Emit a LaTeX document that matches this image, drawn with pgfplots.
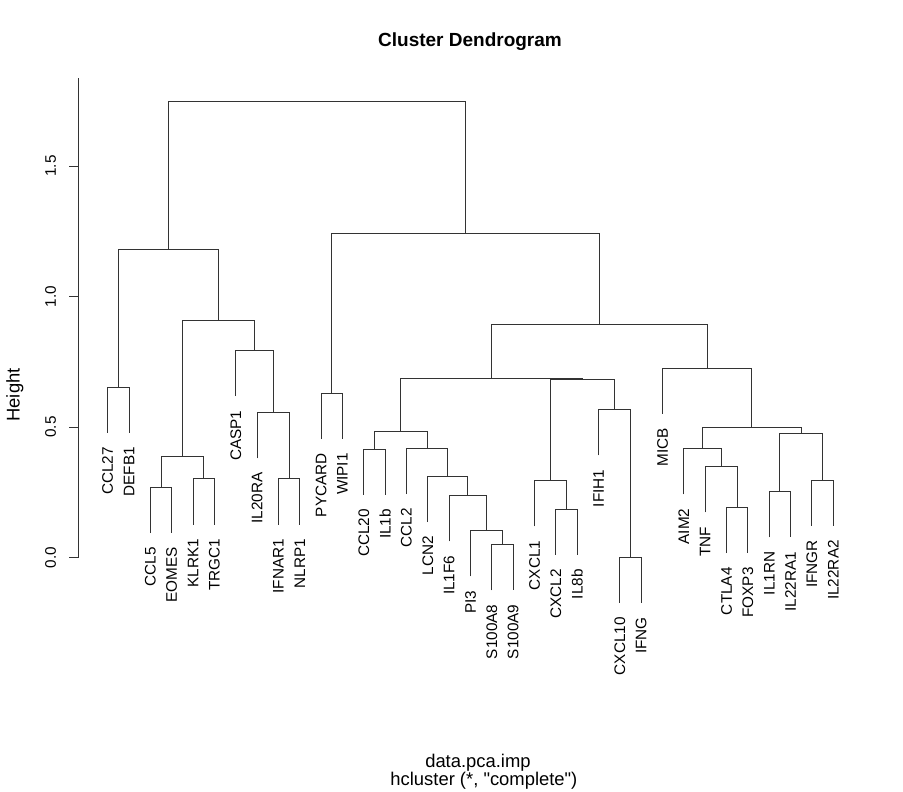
\documentclass[border=0pt]{standalone}
\usepackage{fontspec}
\setmainfont{Liberation Sans}[Ligatures=TeXOff]
\usepackage{pgfplots}
\pgfplotsset{compat=1.18}
\newcommand{\lab}{\fontsize{15.3bp}{18bp}\selectfont}
\newcommand{\axlab}{\fontsize{18.4bp}{22bp}\selectfont}
\tikzset{
  dend/.style={black!80, line width=1bp},
  leaf/.style={rotate=90, anchor=east, inner sep=0pt, font=\lab},
}
% one merge: left x, left bottom, height, right x, right bottom
\newcommand{\U}[5]{\addplot[dend, no marks] coordinates {(#1,#2) (#1,#3) (#4,#3) (#4,#5)};}
\newcommand{\leaflab}[3]{\node[leaf] at (axis cs:#1,#2) {#3};}
\begin{document}
\begin{tikzpicture}
\begin{axis}[
  name=ax,
  scale only axis,
  width=783.6bp, height=479.5bp,
  xmin=-0.36, xmax=36.36, ymin=0, ymax=1.837,
  axis x line=none,
  axis y line*=left,
  ytick={0,0.5,1,1.5},
  yticklabels={0.0,0.5,1.0,1.5},
  tick align=outside,
  major tick length=9.2bp,
  yticklabel style={rotate=90, anchor=base, inner sep=0pt, font=\lab},
  yticklabel shift=13.5bp,
  clip=false,
  axis line style={black!80, line width=1bp},
  every tick/.style={black!80, line width=1bp},
]
% merges
\U{1}{0.478}{0.653}{2}{0.478}
\U{3}{0.094}{0.269}{4}{0.094}
\U{5}{0.126}{0.301}{6}{0.126}
\U{3.5}{0.269}{0.388}{5.5}{0.301}
\U{9}{0.126}{0.301}{10}{0.126}
\U{8}{0.380}{0.555}{9.5}{0.301}
\U{7}{0.618}{0.793}{8.75}{0.555}
\U{4.5}{0.388}{0.910}{7.875}{0.793}
\U{1.5}{0.653}{1.181}{6.1875}{0.910}
\U{11}{0.454}{0.629}{12}{0.454}
\U{13}{0.240}{0.415}{14}{0.240}
\U{19}{-0.126}{0.049}{20}{-0.126}
\U{18}{-0.072}{0.103}{19.5}{0.049}
\U{17}{0.062}{0.237}{18.75}{0.103}
\U{16}{0.136}{0.311}{17.875}{0.237}
\U{15}{0.243}{0.418}{16.9375}{0.311}
\U{13.5}{0.415}{0.481}{15.96875}{0.418}
\U{22}{0.010}{0.185}{23}{0.010}
\U{21}{0.119}{0.294}{22.5}{0.185}
\U{25}{-0.174}{0.001}{26}{-0.174}
\U{24}{0.391}{0.566}{25.5}{0.001}
\U{21.75}{0.294}{0.683}{24.75}{0.566}
\U{14.734375}{0.481}{0.687}{23.25}{0.683}
\U{30}{0.017}{0.192}{31}{0.017}
\U{29}{0.173}{0.348}{30.5}{0.192}
\U{28}{0.242}{0.417}{29.75}{0.348}
\U{32}{0.077}{0.252}{33}{0.077}
\U{34}{0.121}{0.296}{35}{0.121}
\U{32.5}{0.252}{0.476}{34.5}{0.296}
\U{28.875}{0.417}{0.500}{33.5}{0.476}
\U{27}{0.550}{0.725}{31.1875}{0.500}
\U{18.9921875}{0.687}{0.893}{29.09375}{0.725}
\U{11.5}{0.629}{1.241}{24.04296875}{0.893}
\U{3.84375}{1.181}{1.746}{17.771484375}{1.241}
% leaf labels
\leaflab{1}{0.424}{CCL27}
\leaflab{2}{0.424}{DEFB1}
\leaflab{3}{0.040}{CCL5}
\leaflab{4}{0.040}{EOMES}
\leaflab{5}{0.072}{KLRK1}
\leaflab{6}{0.072}{TRGC1}
\leaflab{7}{0.564}{CASP1}
\leaflab{8}{0.326}{IL20RA}
\leaflab{9}{0.072}{IFNAR1}
\leaflab{10}{0.072}{NLRP1}
\leaflab{11}{0.400}{PYCARD}
\leaflab{12}{0.400}{WIPI1}
\leaflab{13}{0.186}{CCL20}
\leaflab{14}{0.186}{IL1b}
\leaflab{15}{0.189}{CCL2}
\leaflab{16}{0.082}{LCN2}
\leaflab{17}{0.008}{IL1F6}
\leaflab{18}{-0.126}{PI3}
\leaflab{19}{-0.180}{S100A8}
\leaflab{20}{-0.180}{S100A9}
\leaflab{21}{0.065}{CXCL1}
\leaflab{22}{-0.044}{CXCL2}
\leaflab{23}{-0.044}{IL8b}
\leaflab{24}{0.337}{IFIH1}
\leaflab{25}{-0.228}{CXCL10}
\leaflab{26}{-0.228}{IFNG}
\leaflab{27}{0.496}{MICB}
\leaflab{28}{0.188}{AIM2}
\leaflab{29}{0.119}{TNF}
\leaflab{30}{-0.037}{CTLA4}
\leaflab{31}{-0.037}{FOXP3}
\leaflab{32}{0.023}{IL1RN}
\leaflab{33}{0.023}{IL22RA1}
\leaflab{34}{0.067}{IFNGR}
\leaflab{35}{0.067}{IL22RA2}
% titles
\node[anchor=base, font=\bfseries\fontsize{19bp}{22bp}\selectfont] at (axis cs:17.977,1.956) {Cluster Dendrogram};
\node[anchor=base, font=\axlab] at (axis cs:18.35,-0.803) {data.pca.imp};
\node[anchor=base, font=\axlab] at (axis cs:18.63,-0.872) {hcluster (*, "complete")};
\node[anchor=base, rotate=90, font=\axlab, inner sep=0pt] at (axis cs:-3.128,0.623) {Height};
\coordinate (bbsw) at (axis cs:-4.047,-0.898);
\coordinate (bbne) at (axis cs:38.268,2.136);
\end{axis}
\pgfresetboundingbox
\useasboundingbox (bbsw) rectangle (bbne);
\end{tikzpicture}
\end{document}
